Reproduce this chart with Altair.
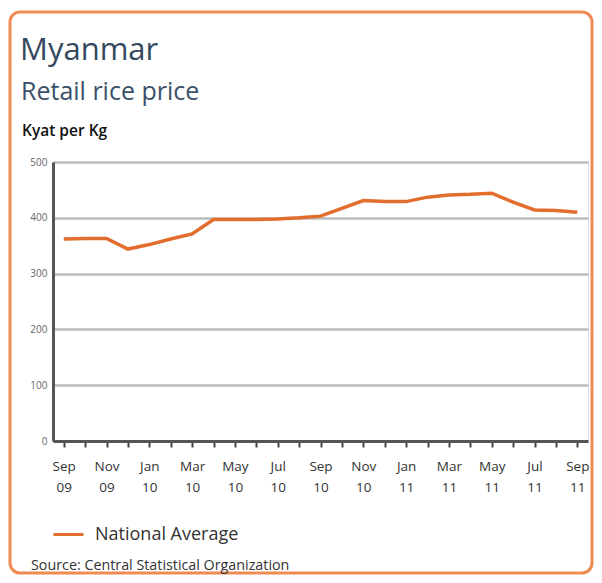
import altair as alt
import pandas as pd

months = ["Sep 09", "Oct 09", "Nov 09", "Dec 09", "Jan 10", "Feb 10", "Mar 10", "Apr 10",
          "May 10", "Jun 10", "Jul 10", "Aug 10", "Sep 10", "Oct 10", "Nov 10", "Dec 10",
          "Jan 11", "Feb 11", "Mar 11", "Apr 11", "May 11", "Jun 11", "Jul 11", "Aug 11", "Sep 11"]
prices = [362, 363, 363, 344, 352, 362, 371, 397,
          397, 397, 398, 400, 403, 417, 431, 429,
          429, 437, 441, 442, 444, 428, 414, 413, 410]
series = "National Average"

df = pd.DataFrame({"month": months, "price": prices, "series": [series] * len(months)})

W, H = 535, 279
FONT = "Open Sans"
ORANGE = "#e26d2c"
BORDER = "#ee8a52"

labelled = "['Sep','Nov','Jan','Mar','May','Jul']"

line = alt.Chart(df).mark_line(strokeWidth=3.5, clip=False).encode(
    x=alt.X("month:O", sort=months, title=None,
            scale=alt.Scale(type="point", padding=0.5),
            axis=alt.Axis(
                labelExpr=f"indexof({labelled}, slice(datum.value,0,3)) >= 0 ? split(datum.value,' ') : ''",
                labelAngle=0, labelFont=FONT, labelFontSize=13.5, labelColor="#333333",
                labelLineHeight=21, labelPadding=19, labelBaseline="middle",
                tickSize=6, tickWidth=2, tickColor="#444444",
                domainColor="#555555", domainWidth=3, grid=False)),
    y=alt.Y("price:Q", title=None,
            scale=alt.Scale(domain=[0, 500], nice=False),
            axis=alt.Axis(values=[0, 100, 200, 300, 400, 500], labelFont=FONT,
                          labelFontSize=10, labelColor="#666666", labelPadding=6,
                          ticks=False, domainColor="#555555", domainWidth=3,
                          grid=True, gridColor="#bbbbbb", gridWidth=2.5)),
    color=alt.Color("series:N", scale=alt.Scale(range=[ORANGE]),
                    legend=alt.Legend(orient="none", legendX=-1, legendY=356, title=None,
                                      symbolType="stroke", symbolSize=900,
                                      symbolStrokeWidth=3, labelFont=FONT,
                                      labelFontSize=18, labelColor="#333333",
                                      labelOffset=10, padding=0)),
)

def txt(s, x, y, size, color, weight="normal", font=FONT):
    return alt.Chart(pd.DataFrame({"t": [s]})).mark_text(
        align="left", baseline="middle", fontSize=size, color=color,
        font=font, fontWeight=weight
    ).encode(x=alt.value(x), y=alt.value(y), text="t:N")

title1 = txt("Myanmar", -33, -111, 31, "#34495e")
title2 = txt("Retail rice price", -32, -70, 25, "#3a5068")
ytitle = txt("Kyat per Kg", -31, -31, 15.5, "#111111", 600)
source = txt("Source: Central Statistical Organization", -22, 404, 14.3, "#333333")

border = alt.Chart(pd.DataFrame({"a": [0]})).mark_rect(
    fill=None, stroke=BORDER, strokeWidth=3, cornerRadius=10, clip=False
).encode(x=alt.value(-43), x2=alt.value(539), y=alt.value(-150), y2=alt.value(411))

chart = alt.layer(border, line, title1, title2, ytitle, source).properties(
    width=W, height=H,
    autosize=alt.AutoSizeParams(type="none"),
    padding={"left": 45, "top": 154, "right": 6, "bottom": 134},
).configure_view(stroke=None).configure(background="white")

chart.save("out.html", embed_options={"renderer": "svg", "actions": False})
